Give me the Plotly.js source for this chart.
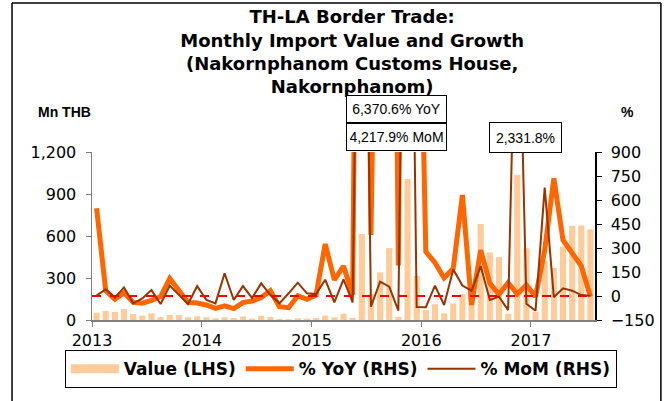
<!DOCTYPE html>
<html>
<head>
<meta charset="utf-8">
<script src="https://cdn.plot.ly/plotly-3.0.1.min.js"></script>
<style>html,body{margin:0;padding:0;background:#fff;}#chart{width:667px;height:401px;}</style>
</head>
<body>
<div id="chart"></div>
<script>
// Months Jan 2013 .. Jul 2017
const months = [
 "2013-01","2013-02","2013-03","2013-04","2013-05","2013-06","2013-07","2013-08","2013-09","2013-10","2013-11","2013-12",
 "2014-01","2014-02","2014-03","2014-04","2014-05","2014-06","2014-07","2014-08","2014-09","2014-10","2014-11","2014-12",
 "2015-01","2015-02","2015-03","2015-04","2015-05","2015-06","2015-07","2015-08","2015-09","2015-10","2015-11","2015-12",
 "2016-01","2016-02","2016-03","2016-04","2016-05","2016-06","2016-07","2016-08","2016-09","2016-10","2016-11","2016-12",
 "2017-01","2017-02","2017-03","2017-04","2017-05","2017-06","2017-07"
];
// Import value, Mn THB (LHS)
const valueMn = [
 52,64,57,79,43,31,48,21,36,35,19,26,
 20,12,20,14,25,10,30,22,8,6,12,10,
 15,32,20,45,15,614,185,340,514,22,1007,315,
 72,113,48,119,185,245,686,483,450,45,1036,512,
 57,422,372,524,673,675,648
];
// % YoY (RHS)
const yoyPct = [
 548,33,-21,21,-40,-45,-28,-4,110,30,-40,-44,
 -56,-77,-62,-79,-41,-31,-10,33,-67,-73,2,-21,
 6,325,100,187,6,6370.6,381,4000,6000,190,8000,3000,
 277,208,113,173,631,-56,287,79,10,83,12,69,
 -4,287,735,350,267,187,-4
];
// % MoM (RHS)
const momPct = [
 2,42,-10,54,-46,-15,37,-50,65,6,-50,62,
 -25,-46,142,-25,62,-12,79,6,-46,17,83,17,
 12,102,-40,104,-40,4217.9,-67,90,58,-92,4477,-69,
 -70,65,-56,165,65,33,187,-25,-4,-88,2331.8,-48,
 -92,677,-8,48,33,6,2
];
const yearTicks = ["2013","2014","2015","2016","2017"];
const calloutText = ["6,370.6% YoY","4,217.9% MoM","2,331.8%"];

const xIdx = months.map((m, i) => i);
const yearTickVals = yearTicks.map(y => months.indexOf(y + "-01") - 0.5);

const FONT = "Liberation Sans, Arial, sans-serif";
const WIDE = "DejaVu Sans, sans-serif";

const traces = [
  {type: "bar", x: xIdx, y: valueMn, yaxis: "y", name: "Value (LHS)",
   marker: {color: "#FFCC99"}, showlegend: false, hoverinfo: "skip"},
  {type: "scatter", mode: "lines", x: [null], y: [null], yaxis: "y", name: "Value (LHS)",
   line: {color: "#FFCC99", width: 9}, showlegend: true},
  {type: "scatter", mode: "lines", x: xIdx, y: yoyPct, yaxis: "y2", name: "% YoY (RHS)",
   line: {color: "#FF6600", width: 5}},
  {type: "scatter", mode: "lines", x: xIdx, y: momPct, yaxis: "y2", name: "% MoM (RHS)",
   line: {color: "#993300", width: 2}}
];

const layout = {
  width: 667, height: 401,
  margin: {l: 92, r: 72, t: 152, b: 81, autoexpand: false},
  paper_bgcolor: "#fff", plot_bgcolor: "#fff",
  font: {family: WIDE, size: 16, color: "#000"},
  bargap: 0.33,
  title: {
    text: "<b>TH-LA Border Trade:<br>Monthly Import Value and Growth<br>(Nakornphanom Customs House,<br>Nakornphanom)</b>",
    font: {family: WIDE, size: 18, color: "#000"},
    x: 0.528, xanchor: "center", xref: "container",
    y: 0.942, yanchor: "top", yref: "container"
  },
  xaxis: {
    range: [-0.5, months.length - 0.5],
    tickmode: "array", tickvals: yearTickVals, ticktext: yearTicks,
    ticks: "outside", ticklen: 5, tickcolor: "#808080",
    showline: true, linecolor: "#808080", linewidth: 1.5,
    showgrid: false, zeroline: false, fixedrange: true,
    tickfont: {family: WIDE, size: 16}
  },
  yaxis: {
    range: [0, 1200], dtick: 300, tick0: 0, tickformat: ",",
    ticks: "outside", ticklen: 5, tickcolor: "#808080",
    showline: true, linecolor: "#808080", linewidth: 1.5,
    showgrid: false, zeroline: false,
    tickfont: {family: WIDE, size: 16}, ticklabelstandoff: 6
  },
  yaxis2: {
    overlaying: "y", side: "right",
    range: [-150, 900], dtick: 150, tick0: 0,
    ticks: "outside", ticklen: 5, tickcolor: "#000",
    showline: true, linecolor: "#000", linewidth: 1.5,
    showgrid: false, zeroline: false,
    tickfont: {family: WIDE, size: 16}, ticklabelstandoff: 6
  },
  legend: {
    orientation: "h", xref: "paper", yref: "paper",
    x: -0.054, xanchor: "left", y: -0.18, yanchor: "top",
    bordercolor: "#000", borderwidth: 1, bgcolor: "#fff",
    font: {family: WIDE, size: 17, color: "#000", weight: "bold"},
    itemwidth: 48, traceorder: "normal"
  },
  shapes: [
    {type: "line", xref: "paper", yref: "y2", x0: 0, x1: 1, y0: 0, y1: 0,
     line: {color: "#FF0000", width: 2, dash: "dash"}, layer: "above"},
    // outer frame
    {type: "line", xref: "paper", yref: "paper", x0: -0.159, x1: -0.159, y0: -0.5, y1: 1.887,
     line: {color: "#000", width: 1.5}},
    {type: "line", xref: "paper", yref: "paper", x0: -0.159, x1: 1.131, y0: 1.887, y1: 1.887,
     line: {color: "#000", width: 1.5}},
    {type: "line", xref: "paper", yref: "paper", x0: 1.131, x1: 1.131, y0: -0.5, y1: 1.887,
     line: {color: "#000", width: 1.5}}
  ],
  annotations: [
    {text: "<b>Mn THB</b>", xref: "paper", yref: "paper", x: -0.055, y: 1.24,
     xanchor: "center", yanchor: "middle", showarrow: false, font: {family: FONT, size: 14}},
    {text: "<b>%</b>", xref: "paper", yref: "paper", x: 1.064, y: 1.24,
     xanchor: "center", yanchor: "middle", showarrow: false, font: {family: FONT, size: 14}},
    {text: calloutText[0], xref: "paper", yref: "paper", x: 0.6054, y: 1.253,
     xanchor: "center", yanchor: "middle", showarrow: false, bgcolor: "#fff",
     bordercolor: "#000", borderwidth: 1, borderpad: 3, width: 93, height: 20,
     font: {family: FONT, size: 14}},
    {text: calloutText[1], xref: "paper", yref: "paper", x: 0.6054, y: 1.092,
     xanchor: "center", yanchor: "middle", showarrow: false, bgcolor: "#fff",
     bordercolor: "#000", borderwidth: 1, borderpad: 3, width: 93, height: 20,
     font: {family: FONT, size: 14}},
    {text: calloutText[2], xref: "paper", yref: "paper", x: 0.862, y: 1.089,
     xanchor: "center", yanchor: "middle", showarrow: false, bgcolor: "#fff",
     bordercolor: "#000", borderwidth: 1, borderpad: 3, width: 65, height: 23,
     font: {family: FONT, size: 14}}
  ]
};

Plotly.newPlot("chart", traces, layout, {displayModeBar: false, staticPlot: true});
</script>
</body>
</html>
